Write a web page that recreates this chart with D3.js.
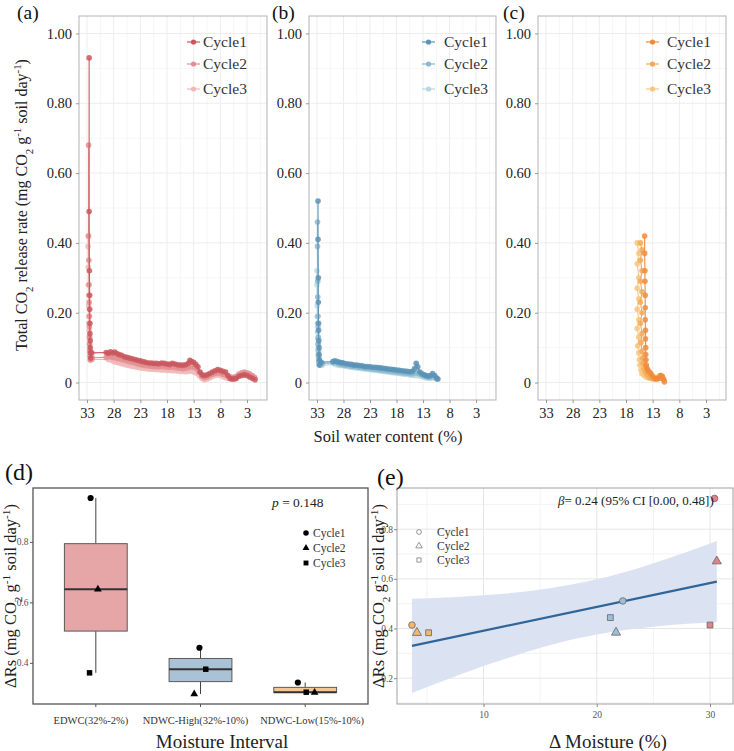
<!DOCTYPE html>
<html>
<head>
<meta charset="utf-8">
<title>Soil CO2 release under drying</title>
<script src="https://d3js.org/d3.v7.min.js"></script>
<style>
  body { margin: 0; background: #fff; }
  svg, svg text { font-family: "Liberation Serif", "Times New Roman", "DejaVu Serif", serif; }
</style>
</head>
<body>
<div id="chart"></div>
<script>
// ---- panel (a) EDWC drying curves: soil water content (%) and CO2 rate ----
const edwcSwc1 = [32.6,32.6,32.55,32.5,32.5,32.45,32.45,32.4,32.4,32.35,32.3,32.1,29.4,29.0,28.6,28.2,27.8,27.4,27.0,26.5,26.0,25.5,25.0,24.5,24.0,23.5,23.0,22.5,22.0,21.5,21.0,20.5,20.0,19.5,19.0,18.5,18.0,17.5,17.0,16.5,16.0,15.5,15.0,14.5,14.0,13.7,13.4,13.0,12.6,12.2,11.8,11.4,11.0,10.5,10.0,9.5,9.0,8.5,8.0,7.5,7.0,6.6,6.2,5.8,5.4,5.0,4.5,4.0,3.5,3.0,2.5,2.0,1.5];
const edwcRate1 = [0.93,0.49,0.32,0.25,0.21,0.17,0.14,0.12,0.10,0.085,0.07,0.085,0.086,0.084,0.088,0.085,0.087,0.083,0.080,0.078,0.074,0.072,0.070,0.068,0.066,0.064,0.062,0.060,0.058,0.056,0.056,0.055,0.055,0.054,0.056,0.055,0.053,0.052,0.055,0.053,0.051,0.050,0.050,0.051,0.055,0.064,0.060,0.058,0.052,0.045,0.030,0.022,0.020,0.022,0.026,0.030,0.034,0.037,0.035,0.032,0.030,0.020,0.012,0.010,0.010,0.012,0.018,0.020,0.022,0.020,0.016,0.012,0.008];
const edwcSwc2 = [32.7,32.7,32.65,32.6,32.6,32.55,32.55,32.5,32.5,32.45,32.4,32.35,32.0,29.4,29.0,28.5,28.0,27.5,27.0,26.5,26.0,25.5,25.0,24.5,24.0,23.5,23.0,22.5,22.0,21.5,21.0,20.5,20.0,19.5,19.0,18.5,18.0,17.5,17.0,16.5,16.0,15.5,15.0,14.5,14.0,13.5,13.0,12.5,12.0,11.5,11.0,10.5,10.0,9.5,9.0,8.5,8.0,7.5,7.0,6.5,6.0,5.5,5.0,4.5,4.0,3.5,3.0,2.5,2.0,1.6];
const edwcRate2 = [0.68,0.42,0.35,0.28,0.23,0.19,0.16,0.13,0.11,0.09,0.075,0.065,0.071,0.072,0.075,0.073,0.072,0.070,0.068,0.066,0.064,0.062,0.060,0.058,0.056,0.054,0.052,0.050,0.049,0.048,0.047,0.046,0.046,0.045,0.046,0.045,0.044,0.044,0.045,0.043,0.042,0.041,0.040,0.041,0.043,0.045,0.044,0.040,0.030,0.018,0.014,0.016,0.020,0.024,0.026,0.028,0.027,0.024,0.022,0.018,0.016,0.015,0.018,0.024,0.028,0.030,0.028,0.025,0.020,0.015];
const edwcSwc3 = [32.8,32.8,32.75,32.75,32.7,32.7,32.65,32.65,32.6,32.6,32.55,32.5,32.5,32.45,32.4,32.0,29.0,28.5,28.0,27.5,27.0,26.5,26.0,25.5,25.0,24.5,24.0,23.5,23.0,22.5,22.0,21.5,21.0,20.5,20.0,19.5,19.0,18.5,18.0,17.5,17.0,16.5,16.0,15.5,15.0,14.5,14.0,13.5,13.0,12.5,12.0,11.5,11.0,10.5,10.0,9.5,9.0,8.5,8.0,7.5,7.0,6.5,6.0,5.5,5.0,4.5,4.0,3.5,3.0,2.5,2.0,1.5];
const edwcRate3 = [0.42,0.39,0.33,0.28,0.25,0.22,0.19,0.17,0.15,0.13,0.11,0.095,0.08,0.07,0.064,0.066,0.066,0.064,0.060,0.058,0.056,0.054,0.052,0.050,0.048,0.046,0.045,0.044,0.042,0.041,0.040,0.039,0.038,0.038,0.037,0.037,0.036,0.036,0.035,0.035,0.034,0.034,0.033,0.032,0.032,0.031,0.032,0.033,0.030,0.027,0.020,0.012,0.008,0.010,0.014,0.017,0.020,0.022,0.020,0.017,0.014,0.012,0.010,0.012,0.015,0.020,0.024,0.026,0.024,0.020,0.016,0.012];

// ---- panel (b) NDWC-High ----
const highSwc1 = [32.8,32.8,32.75,32.75,32.7,32.7,32.65,32.6,32.6,32.55,32.5,32.2,30.0,29.6,29.2,28.8,28.4,28.0,27.5,27.0,26.5,26.0,25.5,25.0,24.5,24.0,23.5,23.0,22.5,22.0,21.5,21.0,20.5,20.0,19.5,19.0,18.5,18.0,17.5,17.0,16.5,16.0,15.5,15.0,14.6,14.3,14.0,13.6,13.2,12.8,12.4,12.0,11.6,11.2,10.8,10.4,10.2];
const highRate1 = [0.52,0.41,0.30,0.23,0.17,0.15,0.12,0.10,0.08,0.065,0.05,0.058,0.060,0.062,0.060,0.058,0.057,0.056,0.054,0.053,0.052,0.050,0.050,0.049,0.048,0.046,0.046,0.045,0.044,0.044,0.043,0.042,0.041,0.040,0.039,0.038,0.037,0.036,0.035,0.034,0.033,0.032,0.031,0.032,0.040,0.055,0.045,0.030,0.025,0.022,0.020,0.018,0.020,0.026,0.020,0.012,0.010];
const highSwc2 = [32.9,32.9,32.85,32.85,32.8,32.8,32.75,32.75,32.7,32.65,32.6,32.55,32.0,29.8,29.0,28.5,28.0,27.5,27.0,26.5,26.0,25.5,25.0,24.5,24.0,23.5,23.0,22.5,22.0,21.5,21.0,20.5,20.0,19.5,19.0,18.5,18.0,17.5,17.0,16.5,16.0,15.5,15.0,14.5,14.0,13.5,13.0,12.5,12.0,11.5,11.0,10.6];
const highRate2 = [0.46,0.39,0.29,0.245,0.19,0.16,0.13,0.11,0.09,0.075,0.06,0.052,0.055,0.056,0.054,0.052,0.050,0.049,0.048,0.047,0.046,0.045,0.044,0.043,0.042,0.041,0.040,0.039,0.038,0.037,0.036,0.035,0.034,0.033,0.032,0.031,0.030,0.029,0.028,0.027,0.026,0.025,0.025,0.028,0.027,0.024,0.020,0.017,0.015,0.016,0.018,0.014];
const highSwc3 = [33.0,33.0,32.95,32.95,32.9,32.9,32.85,32.85,32.8,32.8,32.75,32.7,32.65,32.0,29.5,29.0,28.5,28.0,27.5,27.0,26.5,26.0,25.5,25.0,24.5,24.0,23.5,23.0,22.5,22.0,21.5,21.0,20.5,20.0,19.5,19.0,18.5,18.0,17.5,17.0,16.5,16.0,15.5,15.0,14.5,14.0,13.5,13.0,12.5,12.0,11.5,11.0,10.5];
const highRate3 = [0.32,0.28,0.22,0.19,0.17,0.145,0.125,0.11,0.095,0.08,0.07,0.06,0.052,0.050,0.052,0.050,0.049,0.048,0.047,0.045,0.044,0.043,0.042,0.041,0.040,0.039,0.038,0.037,0.036,0.035,0.034,0.033,0.032,0.031,0.030,0.029,0.028,0.027,0.026,0.025,0.024,0.023,0.022,0.021,0.020,0.020,0.018,0.016,0.014,0.012,0.012,0.014,0.010];

// ---- panel (c) NDWC-Low ----
const lowSwc1 = [14.5,14.5,14.45,14.45,14.4,14.4,14.4,14.35,14.35,14.3,14.3,14.25,14.2,14.1,13.9,13.6,13.3,13.0,12.6,12.2,11.8,11.5,11.2,11.0,10.8];
const lowRate1 = [0.42,0.37,0.32,0.29,0.25,0.214,0.18,0.15,0.125,0.10,0.08,0.065,0.05,0.042,0.036,0.030,0.025,0.018,0.012,0.010,0.012,0.020,0.018,0.010,0.002];
const lowSwc2 = [15.3,15.0,15.3,15.0,15.3,15.0,15.3,15.0,15.3,15.0,15.2,15.0,14.9,14.8,14.6,14.3,14.0,13.6,13.2,12.8,12.4,12.0,11.6,11.2,10.9];
const lowRate2 = [0.40,0.38,0.35,0.32,0.29,0.26,0.23,0.20,0.17,0.14,0.115,0.09,0.07,0.055,0.04,0.03,0.022,0.016,0.012,0.010,0.010,0.014,0.020,0.015,0.008];
const lowSwc3 = [15.9,15.6,15.9,15.6,15.9,15.6,15.9,15.6,15.9,15.6,15.8,15.6,15.5,15.4,15.2,15.0,14.6,14.2,13.8,13.4,13.0,12.5,12.0,11.5,11.0];
const lowRate3 = [0.40,0.37,0.34,0.30,0.27,0.24,0.21,0.18,0.155,0.13,0.105,0.085,0.065,0.05,0.036,0.026,0.020,0.016,0.014,0.012,0.012,0.014,0.016,0.014,0.010];

const swcTicks = [33, 28, 23, 18, 13, 8, 3];
const rateTicks = [0, 0.2, 0.4, 0.6, 0.8, 1.0];
const cycles = ["Cycle1", "Cycle2", "Cycle3"];

// ---- panel (d) boxplot of delta Rs per interval (order: Cycle1, Cycle2, Cycle3) ----
const intervals = ["EDWC(32%-2%)", "NDWC-High(32%-10%)", "NDWC-Low(15%-10%)"];
const deltaRsEdwc = [0.945, 0.643, 0.367];
const deltaRsHigh = [0.450, 0.297, 0.379];
const deltaRsLow = [0.335, 0.302, 0.303];
const jitterEdwc = [-0.05, 0.02, -0.06];
const jitterHigh = [-0.01, -0.06, 0.05];
const jitterLow = [-0.07, 0.09, 0.01];
const boxTicks = [0.4, 0.6, 0.8];

// ---- panel (e) delta moisture vs delta Rs ----
const dMoistEdwc = [30.4, 30.6, 30.0];
const dRsEdwc = [0.924, 0.671, 0.414];
const dMoistHigh = [22.3, 21.7, 21.2];
const dRsHigh = [0.511, 0.384, 0.444];
const dMoistLow = [3.68, 4.12, 5.15];
const dRsLow = [0.414, 0.383, 0.383];
const fitX = [3.68, 30.6];
const fitY = [0.330, 0.589];
const bandX = [3.68, 8, 12, 16, 20, 24, 28, 30.6];
const bandLo = [0.140, 0.216, 0.279, 0.335, 0.376, 0.402, 0.419, 0.425];
const bandHi = [0.520, 0.528, 0.541, 0.563, 0.598, 0.648, 0.709, 0.753];
const moistTicks = [10, 20, 30];
const dRsTicks = [0.2, 0.4, 0.6, 0.8];

const FONT = '"Liberation Serif", "Times New Roman", "DejaVu Serif", serif';
const width = 734, height = 751;
const svg = d3.select("#chart").append("svg")
    .attr("width", width)
    .attr("height", height)
    .attr("font-family", FONT);

// text with sub/superscript parts
function rich(sel, parts) {
    parts.forEach(p => {
        const t = sel.append("tspan").text(p[0]);
        if (p[1] === "sub") t.attr("baseline-shift", "sub").attr("font-size", "68%");
        if (p[1] === "sup") t.attr("baseline-shift", "super").attr("font-size", "68%");
    });
}

function styleAxis(a, size, color, tickColor) {
    a.attr("font-family", FONT);
    a.select(".domain").remove();
    a.selectAll(".tick line").attr("stroke", tickColor);
    a.selectAll("text").attr("font-size", size).attr("fill", color);
}

// ================= panels a-c =================
const plotTop = 16, plotBottom = 400;
const y = d3.scaleLinear().domain([-0.05, 1.05]).range([plotBottom, plotTop]);

function dryingPanel(left, right, swcs, rates, colors, label, legOff, txtOff) {
    const x = d3.scaleLinear().domain([34.5, -0.75]).range([left, right]);
    const g = svg.append("g");

    // grid
    const minorX = swcTicks.map(t => t - 2.5).filter(v => v > -0.75);
    g.selectAll(".mx").data(minorX).join("line")
        .attr("x1", d => x(d)).attr("x2", d => x(d)).attr("y1", plotTop).attr("y2", plotBottom)
        .attr("stroke", "#f6f6f6");
    g.selectAll(".my").data([0.1, 0.3, 0.5, 0.7, 0.9]).join("line")
        .attr("x1", left).attr("x2", right).attr("y1", d => y(d)).attr("y2", d => y(d))
        .attr("stroke", "#f6f6f6");
    g.selectAll(".gx").data(swcTicks).join("line")
        .attr("x1", d => x(d)).attr("x2", d => x(d)).attr("y1", plotTop).attr("y2", plotBottom)
        .attr("stroke", "#ededed");
    g.selectAll(".gy").data(rateTicks).join("line")
        .attr("x1", left).attr("x2", right).attr("y1", d => y(d)).attr("y2", d => y(d))
        .attr("stroke", "#ededed");

    const line = d3.line().x(d => x(d[0])).y(d => y(d[1]));
    // draw cycle 3 first so cycle 1 sits on top
    [2, 1, 0].forEach(i => {
        const pts = swcs[i].map((s, k) => [s, rates[i][k]]);
        g.append("path").datum(pts)
            .attr("d", line)
            .attr("fill", "none")
            .attr("stroke", colors[i])
            .attr("stroke-width", 1.1);
        g.selectAll(null).data(pts).join("circle")
            .attr("cx", d => x(d[0])).attr("cy", d => y(d[1]))
            .attr("r", 2.8)
            .attr("fill", colors[i])
            .attr("fill-opacity", 0.85);
    });

    // frame
    g.append("rect").attr("x", left).attr("y", plotTop)
        .attr("width", right - left).attr("height", plotBottom - plotTop)
        .attr("fill", "none").attr("stroke", "#b3b3b3").attr("stroke-width", 1);

    // axes
    const ax = g.append("g").attr("transform", `translate(0,${plotBottom})`)
        .call(d3.axisBottom(x).tickValues(swcTicks).tickSize(3).tickPadding(5));
    styleAxis(ax, 14.5, "#222", "#999");

    const ay = g.append("g").attr("transform", `translate(${left},0)`)
        .call(d3.axisLeft(y).tickValues(rateTicks).tickSize(3).tickPadding(4)
            .tickFormat(d => d === 0 ? "0" : d3.format(".2f")(d)));
    styleAxis(ay, 14.5, "#222", "#999");

    // legend
    const legY = [42, 64, 89];
    cycles.forEach((c, i) => {
        const lx = left + legOff;
        g.append("line").attr("x1", lx).attr("x2", lx + 13)
            .attr("y1", legY[i]).attr("y2", legY[i])
            .attr("stroke", colors[i]).attr("stroke-width", 1.2);
        g.append("circle").attr("cx", lx + 6.5).attr("cy", legY[i]).attr("r", 2.6)
            .attr("fill", colors[i]);
        g.append("text").attr("x", lx + txtOff).attr("y", legY[i] + 5)
            .attr("font-size", 15.5).attr("fill", "#333").text(c);
    });

    svg.append("text").attr("x", label[1]).attr("y", 18.5)
        .attr("font-size", 19.5).attr("fill", "#111").text(label[0]);
}

dryingPanel(79, 267, [edwcSwc1, edwcSwc2, edwcSwc3], [edwcRate1, edwcRate2, edwcRate3],
    ["#c9585e", "#e28f93", "#f0b9b8"], ["(a)", 17], 108, 16);
dryingPanel(309, 496, [highSwc1, highSwc2, highSwc3], [highRate1, highRate2, highRate3],
    ["#5b93b6", "#8fb8cf", "#b6d9e0"], ["(b)", 272], 113, 22);
dryingPanel(538, 726, [lowSwc1, lowSwc2, lowSwc3], [lowRate1, lowRate2, lowRate3],
    ["#ef8c3c", "#f5a957", "#f8c67c"], ["(c)", 503], 108, 21);

// shared axis titles for a-c
rich(svg.append("text")
    .attr("transform", "translate(27,205) rotate(-90)")
    .attr("text-anchor", "middle").attr("font-size", 16).attr("fill", "#222"),
    [["Total CO"], ["2", "sub"], [" release rate (mg CO"], ["2", "sub"], ["  g"], ["-1", "sup"], [" soil day"], ["-1", "sup"], [")"]]);
svg.append("text").attr("x", 388).attr("y", 442)
    .attr("text-anchor", "middle").attr("font-size", 16.5).attr("fill", "#222")
    .text("Soil water content (%)");

// ================= panel d =================
const dL = 33, dR = 368, dT = 488, dB = 704;
const xd = d3.scaleBand().domain(intervals).range([dL, dR]).paddingOuter(0.1).paddingInner(0);
const unit = xd.bandwidth();
const yd = d3.scaleLinear().domain([0.264, 0.978]).range([dB, dT]);
const boxFill = ["#e6a6a7", "#aac2d6", "#f7c58f"];
const dVals = [deltaRsEdwc, deltaRsHigh, deltaRsLow];
const dJit = [jitterEdwc, jitterHigh, jitterLow];
const shapeTypes = [d3.symbolCircle, d3.symbolTriangle, d3.symbolSquare];
const shapeSize = [30, 26, 30];

const gd = svg.append("g");
intervals.forEach((name, i) => {
    const vals = dVals[i].slice().sort(d3.ascending);
    const q1 = d3.quantile(vals, 0.25), med = d3.quantile(vals, 0.5), q3 = d3.quantile(vals, 0.75);
    const iqr = q3 - q1;
    const lo = d3.min(vals.filter(v => v >= q1 - 1.5 * iqr));
    const hi = d3.max(vals.filter(v => v <= q3 + 1.5 * iqr));
    const cx = xd(name) + unit / 2;
    const bw = unit * 0.6;
    gd.append("line").attr("x1", cx).attr("x2", cx).attr("y1", yd(hi)).attr("y2", yd(q3))
        .attr("stroke", "#444").attr("stroke-width", 1);
    gd.append("line").attr("x1", cx).attr("x2", cx).attr("y1", yd(q1)).attr("y2", yd(lo))
        .attr("stroke", "#444").attr("stroke-width", 1);
    gd.append("rect").attr("x", cx - bw / 2).attr("width", bw)
        .attr("y", yd(q3)).attr("height", yd(q1) - yd(q3))
        .attr("fill", boxFill[i]).attr("stroke", "#5a5a5a").attr("stroke-width", 1);
    gd.append("line").attr("x1", cx - bw / 2).attr("x2", cx + bw / 2)
        .attr("y1", yd(med)).attr("y2", yd(med))
        .attr("stroke", "#333").attr("stroke-width", 2);
    dVals[i].forEach((v, k) => {
        gd.append("path")
            .attr("d", d3.symbol(shapeTypes[k], shapeSize[k]))
            .attr("transform", `translate(${cx + dJit[i][k] * unit},${yd(v)})`)
            .attr("fill", "#000");
    });
});
gd.append("rect").attr("x", dL).attr("y", dT).attr("width", dR - dL).attr("height", dB - dT)
    .attr("fill", "none").attr("stroke", "#555").attr("stroke-width", 1.3);

const axd = gd.append("g").attr("transform", `translate(0,${dB})`)
    .call(d3.axisBottom(xd).tickSize(3).tickPadding(10));
styleAxis(axd, 10.5, "#333", "#555");
axd.selectAll("text").attr("dx", (d, i) => [-5, -5, 7][i]);
const ayd = gd.append("g").attr("transform", `translate(${dL},0)`)
    .call(d3.axisLeft(yd).tickValues(boxTicks).tickSize(3).tickPadding(1.5).tickFormat(d3.format(".1f")));
styleAxis(ayd, 9.5, "#555", "#555");

const pText = gd.append("text").attr("x", 272).attr("y", 507).attr("font-size", 13.5).attr("fill", "#222");
pText.append("tspan").attr("font-style", "italic").text("p");
pText.append("tspan").text(" = 0.148");

const legDY = [533, 548, 563];
cycles.forEach((c, k) => {
    gd.append("path").attr("d", d3.symbol(shapeTypes[k], shapeSize[k] * 0.8))
        .attr("transform", `translate(306,${legDY[k]})`).attr("fill", "#000");
    gd.append("text").attr("x", 313).attr("y", legDY[k] + 4)
        .attr("font-size", 11.5).attr("fill", "#333").text(c);
});

rich(svg.append("text")
    .attr("transform", "translate(16,596) rotate(-90)")
    .attr("text-anchor", "middle").attr("font-size", 16.5).attr("fill", "#222"),
    [["ΔRs (mg CO"], ["2", "sub"], [" g"], ["-1", "sup"], [" soil day"], ["-1", "sup"], [")"]]);
svg.append("text").attr("x", 222).attr("y", 748).attr("text-anchor", "middle")
    .attr("font-size", 19).attr("fill", "#222").text("Moisture Interval");
svg.append("text").attr("x", 5).attr("y", 480).attr("font-size", 24).attr("fill", "#111").text("(d)");

// ================= panel e =================
const eL = 397, eR = 733, eT = 488, eB = 704;
const xe = d3.scaleLinear().domain([2.36, 32.03]).range([eL, eR]);
const ye = d3.scaleLinear().domain([0.096, 0.966]).range([eB, eT]);
const ge = svg.append("g");

ge.selectAll(".emx").data([5, 15, 25]).join("line")
    .attr("x1", d => xe(d)).attr("x2", d => xe(d)).attr("y1", eT).attr("y2", eB).attr("stroke", "#f3f3f3");
ge.selectAll(".emy").data([0.1, 0.3, 0.5, 0.7, 0.9]).join("line")
    .attr("x1", eL).attr("x2", eR).attr("y1", d => ye(d)).attr("y2", d => ye(d)).attr("stroke", "#f3f3f3");
ge.selectAll(".egx").data(moistTicks).join("line")
    .attr("x1", d => xe(d)).attr("x2", d => xe(d)).attr("y1", eT).attr("y2", eB).attr("stroke", "#e6e6e6");
ge.selectAll(".egy").data(dRsTicks).join("line")
    .attr("x1", eL).attr("x2", eR).attr("y1", d => ye(d)).attr("y2", d => ye(d)).attr("stroke", "#e6e6e6");

const band = bandX.map((v, i) => [v, bandLo[i], bandHi[i]]);
ge.append("path").datum(band)
    .attr("d", d3.area().curve(d3.curveMonotoneX).x(d => xe(d[0])).y0(d => ye(d[1])).y1(d => ye(d[2])))
    .attr("fill", "#d9e0f1").attr("fill-opacity", 0.95);
ge.append("path").datum(fitX.map((v, i) => [v, fitY[i]]))
    .attr("d", d3.line().x(d => xe(d[0])).y(d => ye(d[1])))
    .attr("stroke", "#2f6598").attr("stroke-width", 2.2).attr("fill", "none");

const ePts = [[dMoistEdwc, dRsEdwc, "#e38285"], [dMoistHigh, dRsHigh, "#9fbdd4"], [dMoistLow, dRsLow, "#f6b667"]];
ePts.forEach(([xs, ys, col]) => {
    xs.forEach((xv, k) => {
        ge.append("path")
            .attr("d", d3.symbol(shapeTypes[k], [34, 36, 34][k]))
            .attr("transform", `translate(${xe(xv)},${ye(ys[k])})`)
            .attr("fill", col).attr("stroke", "#666").attr("stroke-width", 0.8);
    });
});

ge.append("rect").attr("x", eL).attr("y", eT).attr("width", eR - eL).attr("height", eB - eT)
    .attr("fill", "none").attr("stroke", "#a0a0a0").attr("stroke-width", 1);

const axe = ge.append("g").attr("transform", `translate(0,${eB})`)
    .call(d3.axisBottom(xe).tickValues(moistTicks).tickSize(3).tickPadding(4));
styleAxis(axe, 9.5, "#555", "#888");
const aye = ge.append("g").attr("transform", `translate(${eL},0)`)
    .call(d3.axisLeft(ye).tickValues(dRsTicks).tickSize(3).tickPadding(1).tickFormat(d3.format(".1f")));
styleAxis(aye, 9.5, "#555", "#888");

const bText = ge.append("text").attr("x", 558).attr("y", 505).attr("font-size", 13).attr("fill", "#222");
bText.append("tspan").attr("font-style", "italic").text("β");
bText.append("tspan").text("= 0.24 (95% CI [0.00, 0.48])");

const legEY = [532, 546, 560];
cycles.forEach((c, k) => {
    ge.append("path").attr("d", d3.symbol(shapeTypes[k], 18))
        .attr("transform", `translate(419,${legEY[k]})`)
        .attr("fill", "none").attr("stroke", "#8a8a8a").attr("stroke-width", 0.9);
    ge.append("text").attr("x", 437).attr("y", legEY[k] + 4)
        .attr("font-size", 11.5).attr("fill", "#333").text(c);
});

rich(svg.append("text")
    .attr("transform", "translate(384,596) rotate(-90)")
    .attr("text-anchor", "middle").attr("font-size", 16.5).attr("fill", "#222"),
    [["ΔRs (mg CO"], ["2", "sub"], [" g"], ["-1", "sup"], [" soil day"], ["-1", "sup"], [")"]]);
svg.append("text").attr("x", 608).attr("y", 748).attr("text-anchor", "middle")
    .attr("font-size", 19).attr("fill", "#222").text("Δ Moisture (%)");
svg.append("text").attr("x", 377).attr("y", 485).attr("font-size", 24).attr("fill", "#111").text("(e)");
</script>
</body>
</html>
